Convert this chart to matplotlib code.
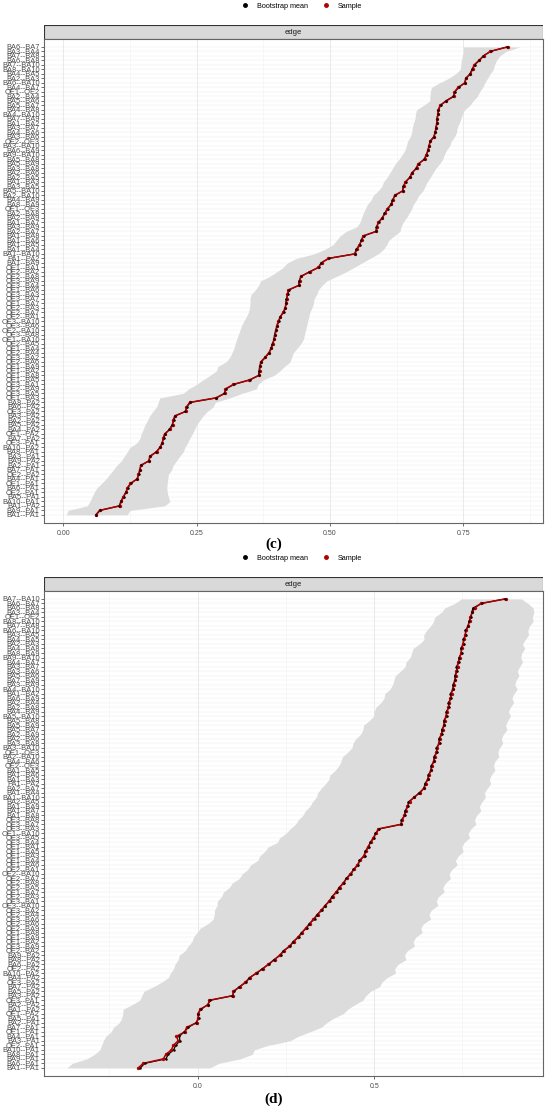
import numpy as np
import matplotlib as mpl
import matplotlib.pyplot as plt
from matplotlib.lines import Line2D
from matplotlib.patches import Rectangle

mpl.rcParams['font.family'] = ['Liberation Sans', 'DejaVu Sans']

# ---------------- panel (c) data (rows listed top -> bottom) ----------------
edges_c = [
    'BA6--BA7', 'BA3--BA4', 'BA7--BA8', 'BA6--BA8', 'BA7--BA10', 'BA8--BA10', 'BA4--BA5',
    'BA2--BA3', 'BA6--BA10', 'BA4--BA7', 'OE1--OE2', 'BA2--BA4', 'BA5--BA6', 'BA5--BA7',
    'BA4--BA8', 'BA4--BA10', 'BA7--BA9', 'BA1--BA2', 'BA3--BA7', 'BA4--BA6', 'BA3--BA6',
    'OE2--OE3', 'BA3--BA10', 'BA6--BA9', 'BA9--BA10', 'BA5--BA8', 'BA5--BA9', 'BA3--BA8',
    'BA2--BA6', 'BA2--BA5', 'BA1--BA3', 'BA3--BA5', 'BA5--BA10', 'BA2--BA10', 'BA4--BA9',
    'BA8--BA9', 'OE1--OE3', 'BA2--BA8', 'BA2--BA9', 'BA1--BA7', 'BA3--BA9', 'BA2--BA7',
    'BA1--BA8', 'BA1--BA6', 'BA1--BA5', 'BA1--BA4', 'BA1--BA10', 'PA1--PA2', 'BA1--BA9',
    'OE1--BA1', 'OE2--BA2', 'OE2--BA8', 'OE3--BA9', 'OE3--BA4', 'OE1--BA6', 'OE3--BA3',
    'OE3--BA7', 'OE1--BA7', 'OE2--BA3', 'OE2--BA7', 'OE2--BA1', 'OE3--BA10', 'OE3--BA6',
    'OE2--BA10', 'OE3--BA8', 'OE1--BA10', 'OE2--BA5', 'OE1--BA4', 'OE2--BA4', 'OE3--BA2',
    'OE2--BA6', 'OE1--BA9', 'OE1--BA2', 'OE1--BA8', 'OE1--BA5', 'OE3--BA1', 'OE2--BA9',
    'OE3--BA5', 'OE1--BA3', 'BA8--PA2', 'BA6--PA2', 'OE3--PA2', 'BA3--PA2', 'BA2--PA2',
    'BA5--PA2', 'BA4--PA2', 'OE1--PA2', 'BA7--PA2', 'OE3--PA1', 'BA10--PA2', 'BA8--PA1',
    'BA3--PA1', 'BA9--PA2', 'BA2--PA1', 'BA7--PA1', 'OE2--PA2', 'BA4--PA1', 'OE1--PA1',
    'BA6--PA1', 'OE2--PA1', 'BA5--PA1', 'BA10--PA1', 'BA1--PA2', 'BA9--PA1', 'BA1--PA1',
]
sample_c = [
    0.833, 0.800, 0.788, 0.779, 0.770, 0.767, 0.763, 0.754, 0.753, 0.740,
    0.733, 0.732, 0.718, 0.706, 0.703, 0.702, 0.701, 0.700, 0.699, 0.697,
    0.695, 0.688, 0.685, 0.684, 0.680, 0.677, 0.665, 0.662, 0.653, 0.650,
    0.641, 0.638, 0.636, 0.621, 0.618, 0.615, 0.607, 0.603, 0.598, 0.590,
    0.588, 0.587, 0.562, 0.559, 0.555, 0.550, 0.547, 0.497, 0.484, 0.478,
    0.462, 0.445, 0.443, 0.442, 0.422, 0.420, 0.419, 0.418, 0.416, 0.412,
    0.407, 0.403, 0.400, 0.399, 0.397, 0.395, 0.393, 0.390, 0.385, 0.378,
    0.370, 0.369, 0.368, 0.367, 0.349, 0.319, 0.304, 0.303, 0.286, 0.237,
    0.231, 0.230, 0.209, 0.206, 0.205, 0.200, 0.190, 0.187, 0.186, 0.181,
    0.175, 0.162, 0.161, 0.145, 0.144, 0.141, 0.139, 0.126, 0.120, 0.118,
    0.112, 0.109, 0.106, 0.068, 0.061,
]
boot_c = [
    0.832, 0.801, 0.787, 0.780, 0.771, 0.766, 0.762, 0.755, 0.752, 0.741,
    0.734, 0.731, 0.717, 0.707, 0.703, 0.702, 0.700, 0.700, 0.698, 0.697,
    0.694, 0.687, 0.686, 0.683, 0.681, 0.676, 0.666, 0.661, 0.654, 0.649,
    0.642, 0.637, 0.636, 0.622, 0.617, 0.614, 0.608, 0.602, 0.598, 0.591,
    0.587, 0.586, 0.563, 0.558, 0.556, 0.549, 0.546, 0.498, 0.483, 0.479,
    0.461, 0.446, 0.442, 0.441, 0.423, 0.421, 0.418, 0.417, 0.416, 0.413,
    0.406, 0.404, 0.401, 0.398, 0.396, 0.395, 0.392, 0.389, 0.386, 0.379,
    0.371, 0.368, 0.367, 0.366, 0.350, 0.320, 0.305, 0.302, 0.287, 0.238,
    0.232, 0.229, 0.210, 0.207, 0.204, 0.199, 0.191, 0.188, 0.185, 0.182,
    0.174, 0.163, 0.160, 0.146, 0.143, 0.142, 0.138, 0.127, 0.121, 0.117,
    0.113, 0.108, 0.105, 0.069, 0.062,
]
lower_c = [
    0.750, 0.750, 0.748, 0.746, 0.745, 0.744, 0.735, 0.722, 0.705, 0.690,
    0.688, 0.687, 0.687, 0.675, 0.662, 0.660, 0.659, 0.656, 0.654, 0.653,
    0.650, 0.645, 0.643, 0.640, 0.635, 0.629, 0.622, 0.617, 0.612, 0.607,
    0.600, 0.597, 0.590, 0.581, 0.577, 0.570, 0.566, 0.562, 0.559, 0.556,
    0.550, 0.530, 0.519, 0.512, 0.505, 0.490, 0.470, 0.437, 0.420, 0.412,
    0.400, 0.387, 0.370, 0.366, 0.360, 0.352, 0.350, 0.350, 0.349, 0.347,
    0.343, 0.338, 0.334, 0.331, 0.328, 0.325, 0.322, 0.320, 0.316, 0.312,
    0.305, 0.290, 0.287, 0.275, 0.262, 0.250, 0.235, 0.225, 0.181, 0.178,
    0.175, 0.168, 0.162, 0.158, 0.153, 0.150, 0.146, 0.144, 0.138, 0.125,
    0.120, 0.114, 0.109, 0.100, 0.094, 0.087, 0.080, 0.072, 0.063, 0.058,
    0.054, 0.050, 0.045, 0.009, 0.006,
]
upper_c = [
    0.856, 0.830, 0.818, 0.812, 0.808, 0.806, 0.800, 0.795, 0.790, 0.786,
    0.780, 0.776, 0.768, 0.762, 0.752, 0.748, 0.745, 0.742, 0.738, 0.737,
    0.733, 0.727, 0.724, 0.718, 0.714, 0.711, 0.705, 0.698, 0.693, 0.688,
    0.682, 0.678, 0.674, 0.666, 0.662, 0.656, 0.653, 0.648, 0.643, 0.637,
    0.633, 0.631, 0.620, 0.610, 0.606, 0.600, 0.590, 0.575, 0.560, 0.545,
    0.530, 0.512, 0.494, 0.485, 0.478, 0.475, 0.470, 0.469, 0.466, 0.462,
    0.460, 0.458, 0.456, 0.454, 0.452, 0.450, 0.445, 0.438, 0.431, 0.428,
    0.425, 0.415, 0.406, 0.395, 0.375, 0.365, 0.362, 0.335, 0.312, 0.285,
    0.281, 0.270, 0.262, 0.256, 0.250, 0.246, 0.242, 0.237, 0.233, 0.228,
    0.225, 0.218, 0.212, 0.206, 0.203, 0.197, 0.196, 0.195, 0.194, 0.195,
    0.197, 0.200, 0.190, 0.125, 0.120,
]

# ---------------- panel (d) data ----------------
edges_d = [
    'BA7--BA10', 'BA6--BA7', 'BA6--BA8', 'BA3--BA4', 'OE1--OE2', 'BA8--BA10', 'BA7--BA8',
    'BA6--BA10', 'BA3--BA5', 'BA4--BA5', 'BA2--BA3', 'BA4--BA8', 'BA8--BA9', 'BA9--BA10',
    'BA4--BA7', 'BA3--BA7', 'BA3--BA6', 'BA5--BA6', 'BA7--BA9', 'BA3--BA9', 'BA4--BA10',
    'BA1--BA2', 'BA6--BA9', 'BA2--BA4', 'BA2--BA8', 'BA4--BA9', 'BA5--BA10', 'BA5--BA8',
    'BA5--BA9', 'BA5--BA7', 'BA2--BA9', 'BA2--BA6', 'BA3--BA8', 'BA3--BA10', 'OE1--OE3',
    'BA2--BA10', 'BA4--BA6', 'OE2--OE3', 'BA1--BA5', 'BA1--BA6', 'BA1--BA3', 'PA1--PA2',
    'BA2--BA7', 'BA1--BA4', 'BA1--BA10', 'BA2--BA5', 'BA1--BA9', 'BA1--BA7', 'BA1--BA8',
    'OE3--BA8', 'OE3--BA7', 'OE3--BA3', 'OE1--BA10', 'OE3--BA5', 'OE3--BA4', 'OE1--BA1',
    'OE1--BA5', 'OE1--BA3', 'OE1--BA4', 'OE1--BA6', 'OE2--BA1', 'OE2--BA10', 'OE2--BA7',
    'OE2--BA8', 'OE2--BA5', 'OE1--BA7', 'OE2--BA3', 'OE3--BA1', 'OE3--BA10', 'OE3--BA2',
    'OE2--BA4', 'OE3--BA6', 'OE2--BA6', 'OE2--BA9', 'OE1--BA8', 'OE1--BA9', 'OE1--BA2',
    'OE3--BA9', 'OE2--BA2', 'BA9--PA2', 'BA8--PA2', 'BA6--PA2', 'OE2--PA2', 'BA10--PA2',
    'BA4--PA2', 'OE3--PA2', 'BA7--PA2', 'BA5--PA2', 'BA3--PA2', 'OE3--PA1', 'BA2--PA2',
    'BA1--PA2', 'OE1--PA2', 'BA5--PA1', 'BA2--PA1', 'BA7--PA1', 'OE1--PA1', 'BA4--PA1',
    'BA3--PA1', 'OE2--PA1', 'BA10--PA1', 'BA8--PA1', 'BA9--PA1', 'BA6--PA1', 'BA1--PA1',
]
sample_d = [
    0.873, 0.802, 0.785, 0.778, 0.772, 0.770, 0.765, 0.761, 0.757, 0.755,
    0.751, 0.748, 0.746, 0.742, 0.738, 0.736, 0.733, 0.731, 0.728, 0.726,
    0.722, 0.719, 0.716, 0.713, 0.710, 0.707, 0.703, 0.700, 0.697, 0.694,
    0.690, 0.686, 0.683, 0.679, 0.676, 0.672, 0.668, 0.664, 0.660, 0.656,
    0.651, 0.646, 0.640, 0.630, 0.612, 0.600, 0.594, 0.590, 0.585, 0.580,
    0.575, 0.512, 0.505, 0.497, 0.490, 0.482, 0.476, 0.470, 0.460, 0.452,
    0.443, 0.432, 0.422, 0.412, 0.402, 0.392, 0.382, 0.372, 0.362, 0.350,
    0.340, 0.328, 0.318, 0.306, 0.296, 0.284, 0.272, 0.260, 0.245, 0.232,
    0.218, 0.200, 0.185, 0.165, 0.148, 0.135, 0.120, 0.101, 0.100, 0.033,
    0.030, 0.007, 0.002, 0.001, -0.003, -0.031, -0.036, -0.060, -0.055, -0.069,
    -0.074, -0.090, -0.097, -0.154, -0.168,
]
boot_d = [
    0.870, 0.805, 0.780, 0.776, 0.775, 0.768, 0.767, 0.758, 0.759, 0.752,
    0.753, 0.745, 0.748, 0.740, 0.740, 0.733, 0.735, 0.728, 0.730, 0.723,
    0.724, 0.716, 0.718, 0.710, 0.712, 0.704, 0.705, 0.697, 0.699, 0.691,
    0.692, 0.683, 0.685, 0.676, 0.678, 0.669, 0.670, 0.661, 0.662, 0.653,
    0.653, 0.643, 0.642, 0.627, 0.614, 0.597, 0.596, 0.587, 0.587, 0.577,
    0.577, 0.515, 0.503, 0.500, 0.488, 0.485, 0.474, 0.473, 0.458, 0.455,
    0.441, 0.435, 0.420, 0.415, 0.400, 0.395, 0.380, 0.375, 0.360, 0.353,
    0.338, 0.331, 0.316, 0.309, 0.294, 0.287, 0.270, 0.263, 0.243, 0.235,
    0.216, 0.203, 0.183, 0.168, 0.146, 0.138, 0.118, 0.104, 0.098, 0.036,
    0.028, 0.010, 0.000, 0.004, -0.005, -0.026, -0.038, -0.052, -0.050, -0.062,
    -0.068, -0.083, -0.090, -0.150, -0.162,
]
lower_d = [
    0.747, 0.728, 0.700, 0.690, 0.672, 0.668, 0.660, 0.648, 0.640, 0.641,
    0.628, 0.610, 0.606, 0.602, 0.590, 0.588, 0.575, 0.560, 0.556, 0.552,
    0.545, 0.530, 0.528, 0.519, 0.505, 0.500, 0.498, 0.486, 0.470, 0.468,
    0.462, 0.448, 0.440, 0.437, 0.425, 0.410, 0.406, 0.400, 0.390, 0.375,
    0.372, 0.362, 0.350, 0.340, 0.336, 0.325, 0.318, 0.305, 0.298, 0.285,
    0.277, 0.262, 0.250, 0.232, 0.226, 0.200, 0.190, 0.176, 0.170, 0.150,
    0.142, 0.126, 0.118, 0.098, 0.090, 0.073, 0.068, 0.056, 0.055, 0.048,
    0.047, 0.044, 0.030, 0.008, -0.002, -0.012, -0.016, -0.027, -0.035, -0.052,
    -0.055, -0.064, -0.068, -0.077, -0.083, -0.102, -0.125, -0.152, -0.158, -0.164,
    -0.186, -0.211, -0.212, -0.215, -0.222, -0.238, -0.245, -0.260, -0.267, -0.272,
    -0.277, -0.292, -0.314, -0.355, -0.370,
]
upper_d = [
    0.917, 0.935, 0.950, 0.952, 0.948, 0.950, 0.940, 0.935, 0.937, 0.928,
    0.920, 0.926, 0.918, 0.915, 0.920, 0.912, 0.905, 0.910, 0.902, 0.898,
    0.905, 0.896, 0.890, 0.895, 0.886, 0.880, 0.886, 0.878, 0.872, 0.876,
    0.866, 0.860, 0.864, 0.855, 0.850, 0.853, 0.842, 0.838, 0.842, 0.832,
    0.826, 0.830, 0.820, 0.812, 0.815, 0.805, 0.798, 0.802, 0.790, 0.784,
    0.788, 0.774, 0.766, 0.770, 0.755, 0.748, 0.752, 0.738, 0.730, 0.735,
    0.720, 0.712, 0.716, 0.702, 0.694, 0.698, 0.682, 0.676, 0.680, 0.662,
    0.655, 0.660, 0.640, 0.632, 0.636, 0.618, 0.610, 0.614, 0.594, 0.586,
    0.590, 0.568, 0.558, 0.560, 0.536, 0.522, 0.515, 0.490, 0.476, 0.468,
    0.445, 0.425, 0.412, 0.385, 0.365, 0.350, 0.318, 0.285, 0.262, 0.200,
    0.160, 0.155, 0.120, 0.060, 0.035,
]

legend_labels = ['Bootstrap mean', 'Sample']
red = '#B00000'
grey_txt = '#4D4D4D'

W, H = 550, 1107
fig = plt.figure(figsize=(W / 100, H / 100), dpi=100)


def px_box(x0, y0, x1, y1):
    # pixel box (top-left origin) -> figure fraction rect
    return [x0 / W, 1 - y1 / H, (x1 - x0) / W, (y1 - y0) / H]


def panel(top, bottom, edges, sample, boot, lower, upper, xlim, ticks, ticklabels, minor):
    n = len(edges)
    ypos = np.arange(n)[::-1]

    strip = fig.add_axes(px_box(44, top - 14, 543, top))
    strip.add_patch(Rectangle((0, 0), 1, 1, transform=strip.transAxes,
                              facecolor='#D9D9D9', edgecolor='#333333', lw=0.8))
    strip.text(0.5, 0.5, 'edge', ha='center', va='center', fontsize=5.5, color='#1A1A1A')
    strip.axis('off')

    ax = fig.add_axes(px_box(44, top, 543, bottom))
    ax.set_facecolor('white')
    for y in ypos:
        ax.axhline(y, color='#EBEBEB', lw=0.35, zorder=0)
    for m in minor:
        ax.axvline(m, color='#F2F2F2', lw=0.4, zorder=0)
    for t in ticks:
        ax.axvline(t, color='#E6E6E6', lw=0.6, zorder=0)

    ax.fill_betweenx(ypos, lower, upper, color='#DCDCDC', lw=0, zorder=1)
    ax.plot(boot, ypos, color='black', lw=0.9, zorder=2)
    ax.plot(sample, ypos, color=red, lw=1.1, zorder=3)
    ax.plot(sample, ypos, 'o', color=red, ms=2.4, mew=0, zorder=4)
    ax.plot(boot, ypos, 'o', color='#1A0000', ms=1.8, mew=0, zorder=5)

    ax.set_xlim(*xlim)
    ax.set_ylim(-1.8, n - 1 + 1.75)
    ax.set_yticks(ypos)
    ax.set_yticklabels(edges, fontsize=5.4, color=grey_txt)
    ax.set_xticks(ticks)
    ax.set_xticklabels(ticklabels, fontsize=5, color=grey_txt)
    ax.tick_params(axis='both', length=2, width=0.5, color='#333333', pad=1)
    ax.tick_params(axis='x', pad=3)
    for s in ax.spines.values():
        s.set_color('#666666')
        s.set_linewidth(0.8)
    return ax


panel(39, 523, edges_c, sample_c, boot_c, lower_c, upper_c,
      (-0.036, 0.899), [0.0, 0.25, 0.5, 0.75], ['0.00', '0.25', '0.50', '0.75'],
      [0.125, 0.375, 0.625, 0.875])
panel(591, 1076, edges_d, sample_d, boot_d, lower_d, upper_d,
      (-0.435, 0.978), [0.0, 0.5], ['0.0', '0.5'], [-0.25, 0.25, 0.75])

handles = [Line2D([], [], marker='o', ls='', color='black', ms=2.5),
           Line2D([], [], marker='o', ls='', color=red, ms=2.5)]
for ytop in (6, 558):
    fig.legend(handles, legend_labels, loc='center', ncol=2, frameon=False,
               fontsize=5.2, handletextpad=0.6, columnspacing=1.6,
               bbox_to_anchor=(300 / W, 1 - ytop / H))

fig.text(274 / W, 1 - 544 / H, '(c)', ha='center', va='center', fontsize=11,
         fontweight='bold', family='Liberation Serif')
fig.text(274 / W, 1 - 1099 / H, '(d)', ha='center', va='center', fontsize=11,
         fontweight='bold', family='Liberation Serif')

fig.savefig('out.png', dpi=100)
